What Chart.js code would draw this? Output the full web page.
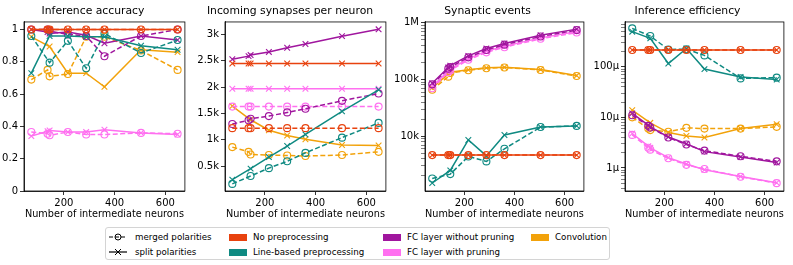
<!DOCTYPE html>
<html>
<head>
<meta charset="utf-8">
<script src="https://cdn.jsdelivr.net/npm/chart.js@4.4.1/dist/chart.umd.min.js"></script>
<style>
  body { margin: 0; background: #fff; width: 793px; height: 265px; overflow: hidden; position: relative; font-family: 'DejaVu Sans', sans-serif; }
  canvas { position: absolute; top: 0; }
  #legend { position: absolute; left: 105px; top: 227px; width: 503px; height: 31px; border: 1px solid #d4d4d4; border-radius: 3px; font-size: 8.7px; color: #000; }
  .item { position: absolute; height: 12px; display: flex; align-items: center; white-space: nowrap; }
  .patch { width: 18px; height: 7px; margin-right: 6px; }
  .item svg { margin-right: 8px; }
</style>
</head>
<body>
<canvas id="c1" width="190" height="222" style="left:0px"></canvas>
<canvas id="c2" width="198" height="222" style="left:193px"></canvas>
<canvas id="c3" width="199" height="222" style="left:390px"></canvas>
<canvas id="c4" width="199" height="222" style="left:590px"></canvas>
<div id="legend"></div>
<script>
// x positions (some series have an extra point near 144)
const X8 = [72, 136, 144, 216, 288, 360, 504, 648];
const X7 = [72, 144, 216, 288, 360, 504, 648];
const xTicks = [200, 400, 600];

const titles = ['Inference accuracy', 'Incoming synapses per neuron', 'Synaptic events', 'Inference efficiency'];
const xLabel = 'Number of intermediate neurons';
const methods = ['No preprocessing', 'Line-based preprocessing', 'FC layer without pruning', 'FC layer with pruning', 'Convolution'];
const colors = ['#e8420e', '#0f8a82', '#a0169e', '#ff70f0', '#f2a20a'];

// Inference accuracy
const accNoPreM = [1, 1, 1, 1, 1, 1, 1, 1];
const accNoPreS = [1, 1, 1, 1, 1, 1, 1, 1];
const accLineM = [0.96, 0.795, 0.93, 0.76, 0.975, 0.855, 0.935];
const accLineS = [0.73, 0.96, 0.96, 0.955, 0.955, 0.9, 0.875];
const accFcM = [1.0, 1.0, 0.99, 0.97, 0.96, 0.835, 0.96, 1.0];
const accFcS = [1.0, 0.985, 0.975, 0.985, 0.965, 0.915, 0.96, 0.935];
const accFcpM = [0.365, 0.355, 0.345, 0.365, 0.35, 0.35, 0.36, 0.355];
const accFcpS = [0.34, 0.37, 0.375, 0.365, 0.365, 0.38, 0.36, 0.35];
const accConvM = [0.69, 0.75, 0.71, 0.725, 0.955, 0.955, 0.87, 0.75];
const accConvS = [0.955, 0.895, 0.73, 0.73, 0.645, 0.875, 0.86];

// Incoming synapses per neuron
const synNoPreM = [1220, 1220, 1220, 1220, 1220, 1220, 1220, 1220];
const synNoPreS = [2450, 2450, 2450, 2450, 2450, 2450, 2450, 2450];
const synLineM = [160, 310, 460, 590, 750, 1040, 1320];
const synLineS = [240, 450, 670, 880, 1100, 1540, 1950];
const synFcM = [1300, 1370, 1400, 1450, 1520, 1590, 1740, 1880];
const synFcS = [2530, 2590, 2610, 2670, 2750, 2820, 2970, 3100];
const synFcpM = [1630, 1630, 1630, 1630, 1630, 1630, 1630, 1630];
const synFcpS = [1970, 1970, 1970, 1970, 1970, 1970, 1970, 1970];
const synConvM = [860, 770, 720, 710, 700, 690, 710, 770];
const synConvS = [1640, 1380, 1180, 1080, 1010, 900, 890];

// Synaptic events
const evNoPreM = [4650, 4650, 4650, 4650, 4650, 4650, 4650, 4650];
const evNoPreS = [4650, 4650, 4650, 4650, 4650, 4650, 4650, 4650];
const evLineM = [1800, 2150, 4400, 3600, 6000, 14500, 15200];
const evLineS = [1500, 2500, 8600, 4500, 10500, 14500, 15200];
const evFcM = [82e3, 155e3, 165e3, 245e3, 330e3, 410e3, 570e3, 740e3];
const evFcS = [86e3, 162e3, 175e3, 260e3, 350e3, 430e3, 600e3, 770e3];
const evFcpM = [70e3, 135e3, 145e3, 222e3, 300e3, 370e3, 520e3, 670e3];
const evFcpS = [74e3, 142e3, 152e3, 232e3, 315e3, 385e3, 540e3, 700e3];
const evConvM = [66e3, 112e3, 130e3, 145e3, 158e3, 162e3, 147e3, 115e3];
const evConvS = [71e3, 134e3, 148e3, 160e3, 164e3, 150e3, 117e3];

// Inference efficiency
const effNoPreM = [215e-6, 215e-6, 215e-6, 215e-6, 215e-6, 215e-6, 215e-6, 215e-6];
const effNoPreS = [215e-6, 215e-6, 215e-6, 215e-6, 215e-6, 215e-6, 215e-6, 215e-6];
const effLineM = [575e-6, 405e-6, 220e-6, 223e-6, 168e-6, 59e-6, 61e-6];
const effLineS = [495e-6, 365e-6, 116e-6, 230e-6, 90e-6, 63e-6, 56e-6];
const effFcM = [11e-6, 6.8e-6, 6.3e-6, 4.0e-6, 2.9e-6, 2.2e-6, 1.7e-6, 1.35e-6];
const effFcS = [12e-6, 7e-6, 6.5e-6, 4.1e-6, 3.0e-6, 2.1e-6, 1.65e-6, 1.28e-6];
const effFcpM = [4.5e-6, 2.5e-6, 2.3e-6, 1.55e-6, 1.15e-6, 0.95e-6, 0.67e-6, 0.5e-6];
const effFcpS = [4.8e-6, 2.7e-6, 2.5e-6, 1.6e-6, 1.2e-6, 0.92e-6, 0.68e-6, 0.51e-6];
const effConvM = [10e-6, 6.0e-6, 5.6e-6, 5.2e-6, 6.2e-6, 6.0e-6, 6.0e-6, 6.5e-6];
const effConvS = [13.9e-6, 7.8e-6, 5.0e-6, 4.3e-6, 4.0e-6, 6.0e-6, 7.3e-6];

// y tick values and labels
const accTicks = [0, 0.2, 0.4, 0.6, 0.8, 1];
const accLabels = ['0', '0.2', '0.4', '0.6', '0.8', '1'];
const synTicks = [500, 1000, 1500, 2000, 2500, 3000];
const synLabels = ['0.5k', '1k', '1.5k', '2k', '2.5k', '3k'];
const evTicks = [1e4, 1e5, 1e6];
const evLabels = ['10k', '100k', '1M'];
const effTicks = [1e-6, 1e-5, 1e-4];
const effLabels = ['1μ', '10μ', '100μ'];

Chart.defaults.font.family = "'DejaVu Sans', sans-serif";
Chart.defaults.color = '#000';

const frame = {
  id: 'frame',
  afterDatasetsDraw(chart) {
    const a = chart.chartArea, c = chart.ctx;
    c.save();
    c.strokeStyle = '#000';
    c.lineWidth = 0.8;
    c.strokeRect(a.left, a.top, a.right - a.left, a.bottom - a.top);
    c.restore();
  }
};

function ds(m, merged, ys) {
  const xs = ys.length === 8 ? X8 : X7;
  return {
    label: methods[m] + (merged ? ' merged' : ' split'),
    data: ys.map((y, i) => ({ x: xs[i], y: y })),
    borderColor: colors[m],
    backgroundColor: colors[m],
    borderWidth: 1.5,
    borderDash: merged ? [5, 2.5] : [],
    pointStyle: merged ? 'circle' : 'crossRot',
    pointRadius: merged ? 3.5 : 4,
    pointBorderWidth: 1.1,
    pointBackgroundColor: 'rgba(0,0,0,0)',
    pointBorderColor: colors[m],
    tension: 0
  };
}

function logTicks(lo, hi, majors) {
  // major ticks at powers of ten plus 2..9 minor ticks inside the range
  const out = [];
  let d = Math.pow(10, Math.floor(Math.log10(lo)));
  while (d <= hi) {
    for (let k = 1; k < 10; k++) {
      const v = k * d;
      if (v >= lo && v <= hi) out.push({ value: v, major: k === 1 });
    }
    d *= 10;
  }
  return out;
}

function makeChart(id, panel, yw, y, sets) {
  const yScale = {
    type: y.type,
    min: y.min,
    max: y.max,
    afterFit: s => { s.width = yw; },
    afterBuildTicks: s => {
      s.ticks = y.type === 'logarithmic' ? logTicks(y.min, y.max) : y.ticks.map(v => ({ value: v }));
    },
    ticks: {
      autoSkip: false,
      padding: 2,
      font: { size: 10 },
      callback: v => {
        const i = y.ticks.findIndex(t => Math.abs(t - v) < Math.abs(t) * 1e-6 + 1e-12);
        return i >= 0 ? y.labels[i] : '';
      }
    },
    grid: {
      drawOnChartArea: false,
      tickLength: 4,
      color: '#000',
      lineWidth: c => (c.tick && c.tick.major === false) ? 0.5 : 0.8
    },
    border: { display: true, color: '#000', width: 0.8 }
  };
  return new Chart(document.getElementById(id), {
    type: 'line',
    data: { datasets: sets },
    plugins: [frame],
    options: {
      responsive: false,
      animation: false,
      layout: { padding: { left: 0, right: 4, top: 0, bottom: 0 } },
      plugins: {
        legend: { display: false },
        tooltip: { enabled: false },
        title: { display: true, text: titles[panel], font: { size: 10.8, weight: 'normal' }, padding: { top: 5, bottom: 4 } }
      },
      scales: {
        x: {
          type: 'linear',
          min: 43.2,
          max: 676.8,
          afterFit: s => { s.height = 31; },
          afterBuildTicks: s => { s.ticks = xTicks.map(v => ({ value: v })); },
          ticks: { padding: 2, font: { size: 10 }, maxRotation: 0 },
          grid: { drawOnChartArea: false, tickLength: 4, color: '#000', lineWidth: 0.8 },
          border: { display: true, color: '#000', width: 0.8 },
          title: { display: true, text: xLabel, font: { size: 9.7 }, padding: { top: 0, bottom: 2 } }
        },
        y: yScale
      }
    }
  });
}

makeChart('c1', 0, 24, { type: 'linear', min: 0, max: 1.047, ticks: accTicks, labels: accLabels }, [
  ds(0, true, accNoPreM), ds(0, false, accNoPreS),
  ds(1, true, accLineM), ds(1, false, accLineS),
  ds(2, true, accFcM), ds(2, false, accFcS),
  ds(3, true, accFcpM), ds(3, false, accFcpS),
  ds(4, true, accConvM), ds(4, false, accConvS)
]);
makeChart('c2', 1, 32, { type: 'linear', min: 25, max: 3240, ticks: synTicks, labels: synLabels }, [
  ds(0, true, synNoPreM), ds(0, false, synNoPreS),
  ds(1, true, synLineM), ds(1, false, synLineS),
  ds(2, true, synFcM), ds(2, false, synFcS),
  ds(3, true, synFcpM), ds(3, false, synFcpS),
  ds(4, true, synConvM), ds(4, false, synConvS)
]);
makeChart('c3', 2, 35, { type: 'logarithmic', min: 1084, max: 1.03e6, ticks: evTicks, labels: evLabels }, [
  ds(0, true, evNoPreM), ds(0, false, evNoPreS),
  ds(1, true, evLineM), ds(1, false, evLineS),
  ds(2, true, evFcM), ds(2, false, evFcS),
  ds(3, true, evFcpM), ds(3, false, evFcpS),
  ds(4, true, evConvM), ds(4, false, evConvS)
]);
makeChart('c4', 3, 35, { type: 'logarithmic', min: 3.5e-7, max: 7.7e-4, ticks: effTicks, labels: effLabels }, [
  ds(0, true, effNoPreM), ds(0, false, effNoPreS),
  ds(1, true, effLineM), ds(1, false, effLineS),
  ds(2, true, effFcM), ds(2, false, effFcS),
  ds(3, true, effFcpM), ds(3, false, effFcpS),
  ds(4, true, effConvM), ds(4, false, effConvS)
]);

// legend: line styles in the first column, method colours after
const legend = document.getElementById('legend');
const sampleMerged = '<svg width="18" height="10"><line x1="0" y1="5" x2="18" y2="5" stroke="#000" stroke-width="1.2" stroke-dasharray="4,2"/><circle cx="9" cy="5" r="3" fill="none" stroke="#000" stroke-width="1"/></svg>';
const sampleSplit = '<svg width="18" height="10"><line x1="0" y1="5" x2="18" y2="5" stroke="#000" stroke-width="1.2"/><path d="M6 2 L12 8 M12 2 L6 8" stroke="#000" stroke-width="1"/></svg>';
const items = [
  [3, 3, sampleMerged, 'merged polarities'],
  [3, 18, sampleSplit, 'split polarities'],
  [123, 3, 0, methods[0]],
  [123, 18, 1, methods[1]],
  [277, 3, 2, methods[2]],
  [277, 18, 3, methods[3]],
  [425, 3, 4, methods[4]]
];
items.forEach(([l, t, mark, text]) => {
  const d = document.createElement('div');
  d.className = 'item';
  d.style.left = l + 'px';
  d.style.top = t + 'px';
  const m = typeof mark === 'string' ? mark : '<span class="patch" style="background:' + colors[mark] + '"></span>';
  d.innerHTML = m + '<span>' + text + '</span>';
  legend.appendChild(d);
});
</script>
</body>
</html>
